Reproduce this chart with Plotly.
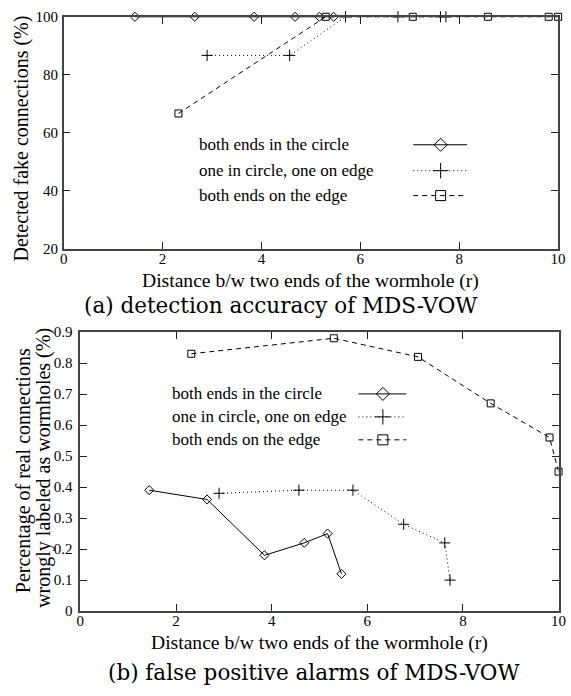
import plotly.graph_objects as go

# ---------------- data ----------------
series_names = ["both ends in the circle", "one in circle, one on edge", "both ends on the edge"]

x_circle = [1.44, 2.65, 3.85, 4.68, 5.17, 5.46]
acc_circle = [100, 100, 100, 100, 100, 100]
fp_circle = [0.39, 0.36, 0.18, 0.22, 0.25, 0.12]

x_one_edge = [2.90, 4.57, 5.70, 6.76, 7.62, 7.73]
acc_one_edge = [86.7, 86.7, 100, 100, 100, 100]
fp_one_edge = [0.38, 0.39, 0.39, 0.28, 0.22, 0.10]

x_edge = [2.32, 5.30, 7.06, 8.58, 9.81, 10.0]
acc_edge = [66.7, 100, 100, 100, 100, 100]
fp_edge = [0.83, 0.88, 0.82, 0.67, 0.56, 0.45]

x_ticks = [0, 2, 4, 6, 8, 10]
acc_ticks = [20, 40, 60, 80, 100]
fp_ticks = [0, 0.1, 0.2, 0.3, 0.4, 0.5, 0.6, 0.7, 0.8, 0.9]
fp_ticktext = ["0", "0.1", "0.2", "0.3", "0.4", "0.5", "0.6", "0.7", "0.8", "0.9"]

x_title = "Distance b/w two ends of the wormhole (r)"
acc_title = "Detected fake connections (%)"
fp_title_1 = "Percentage of real connections"
fp_title_2 = "wrongly labeled as wormholes (%)"
caption_a = "(a) detection accuracy of MDS-VOW"
caption_b = "(b) false positive alarms of MDS-VOW"

# ---------------- styling ----------------
W, H = 571, 696
SERIF = "Liberation Serif"
CAP_FONT = "DejaVu Serif"
styles = [
    dict(dash="solid", symbol="diamond-open", size=7),
    dict(dash="1px,3px", symbol="cross-thin-open", size=8),
    dict(dash="5px,4px", symbol="square-open", size=7),
]

def px_x(px):
    return px / W

def px_y(py):
    return 1 - py / H

fig = go.Figure()

top_sets = [(x_circle, acc_circle), (x_one_edge, acc_one_edge), (x_edge, acc_edge)]
bot_sets = [(x_circle, fp_circle), (x_one_edge, fp_one_edge), (x_edge, fp_edge)]

for axes, sets in (((("x", "y")), top_sets), ((("x2", "y2")), bot_sets)):
    for (xs, ys), st in zip(sets, styles):
        fig.add_trace(go.Scatter(
            x=xs, y=ys, mode="lines+markers", xaxis=axes[0], yaxis=axes[1], showlegend=False,
            cliponaxis=False,
            line=dict(color="black", width=1, dash=st["dash"]),
            marker=dict(symbol=st["symbol"], size=st["size"], color="black",
                        line=dict(color="black", width=1)),
        ))

# legend samples on a pixel-space overlay axis
legend_defs = [
    dict(text_x=197, rows=[140, 166.5, 192], sx0=418, sx1=473, mx=446),
    dict(text_x=170, rows=[395, 418.5, 442], sx0=362, sx1=411, mx=387),
]
for ld in legend_defs:
    for name, ry, st in zip(series_names, ld["rows"], styles):
        fig.add_trace(go.Scatter(
            x=[ld["sx0"], ld["sx1"]], y=[ry, ry], mode="lines", xaxis="x3", yaxis="y3",
            showlegend=False, line=dict(color="black", width=1, dash=st["dash"]),
        ))
        fig.add_trace(go.Scatter(
            x=[ld["mx"]], y=[ry], mode="markers", xaxis="x3", yaxis="y3", showlegend=False,
            marker=dict(symbol=st["symbol"], size=st["size"] + 3, color="black",
                        line=dict(color="black", width=1)),
        ))
        fig.add_annotation(
            x=px_x(ld["text_x"]), y=px_y(ry), xref="paper", yref="paper",
            text=name, showarrow=False, xanchor="left", yanchor="middle",
            font=dict(family=SERIF, size=17, color="black"),
        )

axis_common = dict(
    showline=True, linecolor="#444444", linewidth=1.5, mirror="allticks",
    ticks="inside", ticklen=7, tickwidth=1, tickcolor="#222222",
    showgrid=False, zeroline=False, ticklabeloverflow="allow",
    tickfont=dict(family=SERIF, size=15, color="black"),
)

fig.update_layout(
    width=W, height=H, autosize=False,
    margin=dict(l=0, r=0, t=0, b=0, pad=0),
    paper_bgcolor="white", plot_bgcolor="rgba(0,0,0,0)",
    showlegend=False,
    xaxis=dict(domain=[px_x(61), px_x(566)], range=[0, 10], anchor="y",
               tickvals=x_ticks, ticktext=[str(v) for v in x_ticks],
               ticklabelstandoff=-5, **axis_common),
    yaxis=dict(domain=[px_y(246.7), px_y(9)], range=[20, 100], anchor="x",
               tickvals=acc_ticks, ticktext=[str(v) for v in acc_ticks],
               ticklabelstandoff=1, **axis_common),
    xaxis2=dict(domain=[px_x(78), px_x(566.5)], range=[0, 10], anchor="y2",
                tickvals=x_ticks, ticktext=[str(v) for v in x_ticks],
                ticklabelstandoff=-5, **axis_common),
    yaxis2=dict(domain=[px_y(617.3), px_y(331.7)], range=[0, 0.9], anchor="x2",
                tickvals=fp_ticks, ticktext=fp_ticktext,
                ticklabelstandoff=3, **axis_common),
    xaxis3=dict(domain=[0, 1], range=[0, W], visible=False, anchor="y3", fixedrange=True),
    yaxis3=dict(domain=[0, 1], range=[H, 0], visible=False, anchor="x3", fixedrange=True),
)

def ann(text, x, y, size, family=SERIF, angle=0):
    fig.add_annotation(
        x=px_x(x), y=px_y(y), xref="paper", yref="paper", text=text, showarrow=False,
        xanchor="center", yanchor="middle", textangle=angle,
        font=dict(family=family, size=size, color="black"),
    )

ann(x_title, 313.5, 279, 19.6)
ann(x_title, 322, 650, 19.6)
ann(acc_title, 18, 134, 20, angle=-90)
ann(fp_title_1, 19.5, 474, 20, angle=-90)
ann(fp_title_2, 40.5, 471, 20, angle=-90)
ann(caption_a, 283, 304, 21.5, family=CAP_FONT)
ann(caption_b, 317, 680, 21.5, family=CAP_FONT)

fig.write_html("out.html", config=dict(displayModeBar=False))
